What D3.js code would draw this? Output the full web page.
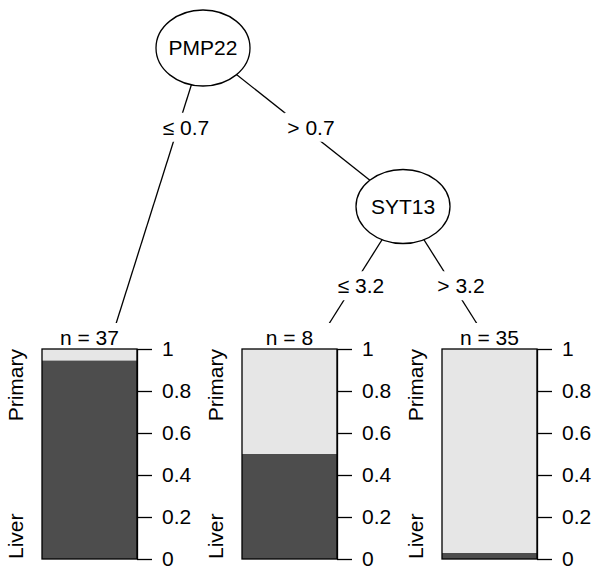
<!DOCTYPE html>
<html>
<head>
<meta charset="utf-8">
<script src="https://cdn.jsdelivr.net/npm/d3@7"></script>
<style>
  html, body { margin: 0; padding: 0; background: #fff; }
  svg { display: block; font-family: "Liberation Sans", Arial, Helvetica, sans-serif; }
</style>
</head>
<body>
<svg id="chart" width="604" height="576"></svg>
<script>
// ---- data ----
const splitVars = ["PMP22", "SYT13"];
const edgeLabels = [["\u2264 0.7", "> 0.7"], ["\u2264 3.2", "> 3.2"]];
const classes = ["Liver", "Primary"];
const leafN = [37, 8, 35];
const leafLiver = [35, 4, 1];
const leafPrimary = [2, 4, 34];
const yTicks = [0, 0.2, 0.4, 0.6, 0.8, 1];
const tickLabels = ["0", "0.2", "0.4", "0.6", "0.8", "1"];

// tree structure: inner node 0 -> [leaf 0, inner 1]; inner 1 -> [leaf 1, leaf 2]
const tree = {
  type: "inner", id: 0, kids: [
    { type: "leaf", id: 0 },
    { type: "inner", id: 1, kids: [{ type: "leaf", id: 1 }, { type: "leaf", id: 2 }] }
  ]
};

const svg = d3.select("#chart");
const W = 604, H = 576;
const FS = 21;
const nLeaves = leafN.length;

const xU = d3.scaleLinear().domain([0, nLeaves]).range([3, 603]);
const yLevel = d3.scaleLinear().domain([0, 2]).range([48, 365]);
const yBar = d3.scaleLinear().domain([0, 1]).range([559, 349]);

function countLeaves(n) { return n.type === "leaf" ? 1 : d3.sum(n.kids, countLeaves); }

// partykit-style layout
function layout(n, x0, x1, depth) {
  n.depth = depth;
  if (n.type === "leaf") {
    n.x = xU((x0 + x1) / 2);
    n.y = yLevel(2);
    return;
  }
  const nl = countLeaves(n.kids[0]);
  const nr = countLeaves(n.kids[1]);
  const xm = x0 + (x1 - x0) * nl / (nl + nr);
  n.x = xU(xm);
  n.y = yLevel(depth);
  layout(n.kids[0], x0, xm, depth + 1);
  layout(n.kids[1], xm, x1, depth + 1);
}
layout(tree, 0, nLeaves, 0);

const inner = [], leaves = [], edges = [];
(function walk(n) {
  if (n.type === "leaf") { leaves.push(n); return; }
  inner.push(n);
  n.kids.forEach((k, i) => { edges.push({ p: n, c: k, i }); walk(k); });
})(tree);

const gEdges = svg.append("g");
const gLabels = svg.append("g");
const gNodes = svg.append("g");
const gLeaves = svg.append("g");

// edges
gEdges.selectAll("line").data(edges).join("line")
  .attr("x1", d => d.p.x).attr("y1", d => d.p.y)
  .attr("x2", d => d.c.x).attr("y2", d => d.c.y)
  .attr("stroke", "#000").attr("stroke-width", 1.3);

// edge labels
edges.forEach(e => {
  const ly = (yLevel(e.p.depth) + yLevel(e.p.depth + 1)) / 2;
  const t = (ly - e.p.y) / (e.c.y - e.p.y);
  const lx = e.p.x + t * (e.c.x - e.p.x) + 8;
  const g = gLabels.append("g");
  const rect = g.append("rect").attr("fill", "#fff");
  const txt = g.append("text")
    .attr("x", lx).attr("y", ly).attr("dy", "0.35em")
    .attr("text-anchor", "middle").attr("font-size", FS)
    .text(edgeLabels[e.p.id][e.i]);
  const bb = txt.node().getBBox();
  rect.attr("x", bb.x - 3).attr("width", bb.width + 6)
    .attr("y", ly - 14.5).attr("height", 29);
});

// inner nodes
const ng = gNodes.selectAll("g").data(inner).join("g")
  .attr("transform", d => `translate(${d.x},${d.y})`);
ng.append("ellipse").attr("rx", 47).attr("ry", d => d.depth === 0 ? 38 : 37)
  .attr("fill", "#fff").attr("stroke", "#000").attr("stroke-width", 1.3);
ng.append("text").attr("text-anchor", "middle").attr("dy", "0.35em")
  .attr("font-size", FS).text(d => splitVars[d.id]);

// leaves
const panelL = -61, panelR = 34;
leaves.forEach(lf => {
  const g = gLeaves.append("g");
  g.append("rect").attr("x", lf.x - 100).attr("y", 323)
    .attr("width", 200).attr("height", H - 323).attr("fill", "#fff");
  const x0 = lf.x + panelL, x1 = lf.x + panelR;
  const pLiver = leafLiver[lf.id] / leafN[lf.id];
  // Liver (dark) bottom
  g.append("rect").attr("x", x0).attr("width", x1 - x0)
    .attr("y", yBar(pLiver)).attr("height", yBar(0) - yBar(pLiver))
    .attr("fill", "#4D4D4D");
  // Primary (light) top
  g.append("rect").attr("x", x0).attr("width", x1 - x0)
    .attr("y", yBar(1)).attr("height", yBar(pLiver) - yBar(1))
    .attr("fill", "#E6E6E6");
  g.append("rect").attr("x", x0).attr("width", x1 - x0)
    .attr("y", yBar(1)).attr("height", yBar(0) - yBar(1))
    .attr("fill", "none").attr("stroke", "#000").attr("stroke-width", 1.3);
  // axis
  const ax = g.append("g").attr("transform", `translate(${x1},0)`)
    .call(d3.axisRight(yBar).tickValues(yTicks)
      .tickFormat((d, i) => tickLabels[i]).tickSize(15).tickSizeOuter(0).tickPadding(10));
  ax.select(".domain").attr("stroke", "#000").attr("stroke-width", 1.3);
  ax.selectAll(".tick line").attr("stroke", "#000").attr("stroke-width", 1.3);
  ax.selectAll(".tick text").attr("font-size", FS).attr("fill", "#000")
    .attr("font-family", "Liberation Sans, Arial, sans-serif");
  // n label
  g.append("text").attr("x", (x0 + x1) / 2).attr("y", 345)
    .attr("text-anchor", "middle").attr("font-size", FS)
    .text("n = " + leafN[lf.id]);
  // class labels
  g.append("text").attr("transform", `translate(${x0 - 19.5},${yBar(1)}) rotate(-90)`)
    .attr("text-anchor", "end").attr("font-size", FS).text(classes[1]);
  g.append("text").attr("transform", `translate(${x0 - 19.5},${yBar(0)}) rotate(-90)`)
    .attr("text-anchor", "start").attr("font-size", FS).text(classes[0]);
});
</script>
</body>
</html>
